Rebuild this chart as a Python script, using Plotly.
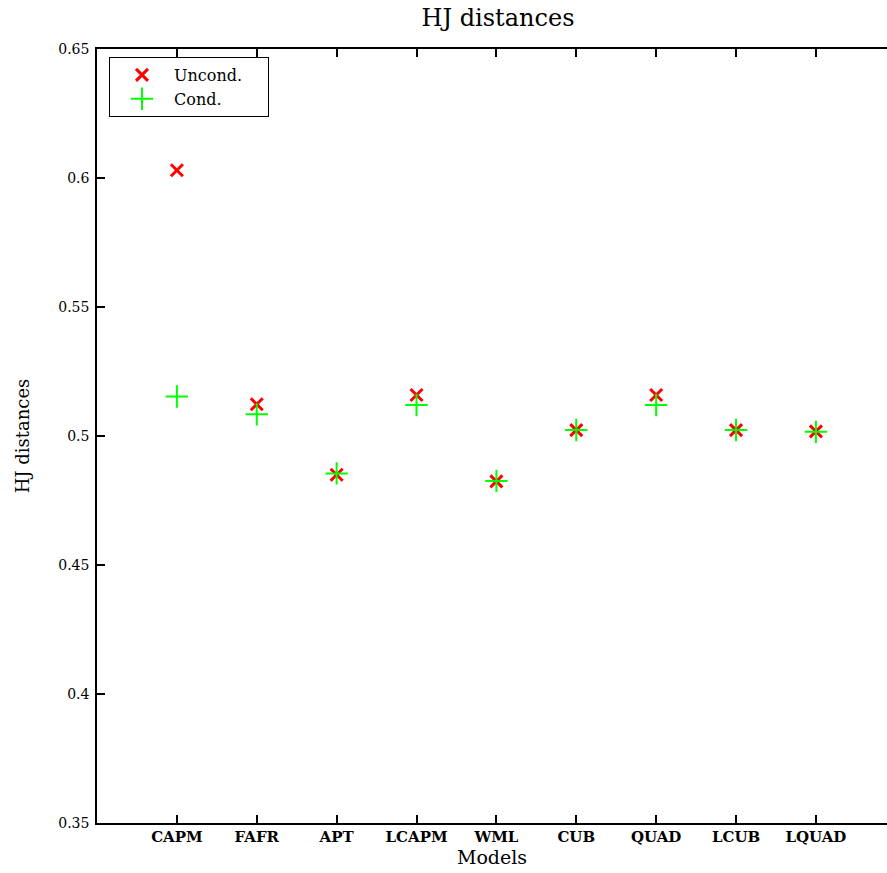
import plotly.graph_objects as go

models = ["CAPM", "FAFR", "APT", "LCAPM", "WML", "CUB", "QUAD", "LCUB", "LQUAD"]
uncond = [0.6030, 0.5123, 0.4850, 0.5159, 0.4824, 0.5023, 0.5159, 0.5023, 0.5018]
cond = [0.5153, 0.5084, 0.4855, 0.5120, 0.4826, 0.5023, 0.5120, 0.5023, 0.5016]
yticks = [0.35, 0.4, 0.45, 0.5, 0.55, 0.6, 0.65]

xpos = list(range(1, len(models) + 1))
FONT = "DejaVu Serif"
PAD = "&nbsp;" * 4

fig = go.Figure()
fig.add_trace(go.Scatter(
    x=xpos, y=uncond, mode="markers", name="Uncond." + PAD,
    marker=dict(symbol="x-thin", size=12, color="#ff0000",
                line=dict(color="#ff0000", width=3)),
))
fig.add_trace(go.Scatter(
    x=xpos, y=cond, mode="markers", name="Cond.",
    marker=dict(symbol="cross-thin", size=16, color="#00ff00",
                line=dict(color="#00ff00", width=2)),
))
fig.add_trace(go.Scatter(x=xpos, y=cond, xaxis="x2", mode="markers",
                         marker=dict(opacity=0), showlegend=False,
                         hoverinfo="skip"))

fig.update_layout(
    width=887, height=873,
    margin=dict(l=97, r=0, t=49, b=50),
    paper_bgcolor="white", plot_bgcolor="white",
    font=dict(family=FONT, color="black"),
    title=dict(text="HJ distances", x=498 / 887, xanchor="center", xref="container",
               y=1 - 18 / 873, yanchor="middle", yref="container",
               font=dict(size=24, family=FONT, color="black")),
    showlegend=True,
    legend=dict(x=12 / 790, y=1 - 8 / 774, xanchor="left", yanchor="top",
                bgcolor="white", bordercolor="black", borderwidth=1,
                font=dict(size=16, family=FONT), itemwidth=54,
                tracegroupgap=0),
    xaxis=dict(
        range=[0, 9.89], tickvals=xpos, ticktext=models,
        showline=True, linecolor="black", linewidth=1.5, mirror=False,
        ticks="inside", ticklen=8, tickwidth=1.5, tickcolor="black",
        showgrid=False, zeroline=False,
        tickfont=dict(size=15, family=FONT, weight="bold"), ticklabelstandoff=-1,
        title=dict(text="Models", font=dict(size=19, family=FONT), standoff=4),
    ),
    xaxis2=dict(
        range=[0, 9.89], tickvals=xpos, showticklabels=False, overlaying="x",
        side="top", anchor="y",
        showline=True, linecolor="black", linewidth=1.5,
        ticks="inside", ticklen=8, tickwidth=1.5, tickcolor="black",
        showgrid=False, zeroline=False,
    ),
    yaxis=dict(
        range=[0.35, 0.65], tickvals=yticks, ticktext=[str(v) for v in yticks],
        showline=True, linecolor="black", linewidth=1.5, mirror=False,
        ticks="inside", ticklen=8, tickwidth=1.5, tickcolor="black",
        showgrid=False, zeroline=False,
        tickfont=dict(size=14, family=FONT), ticklabelstandoff=3,
        title=dict(text="HJ distances", font=dict(size=18, family=FONT), standoff=24),
    ),
    annotations=[dict(xref="paper", yref="paper", x=1, y=0.5,
                      xanchor="right", yanchor="middle", text=" ",
                      width=4, height=766, bgcolor="white", borderpad=0,
                      borderwidth=0, showarrow=False)],
)

fig.write_html("out.html")
